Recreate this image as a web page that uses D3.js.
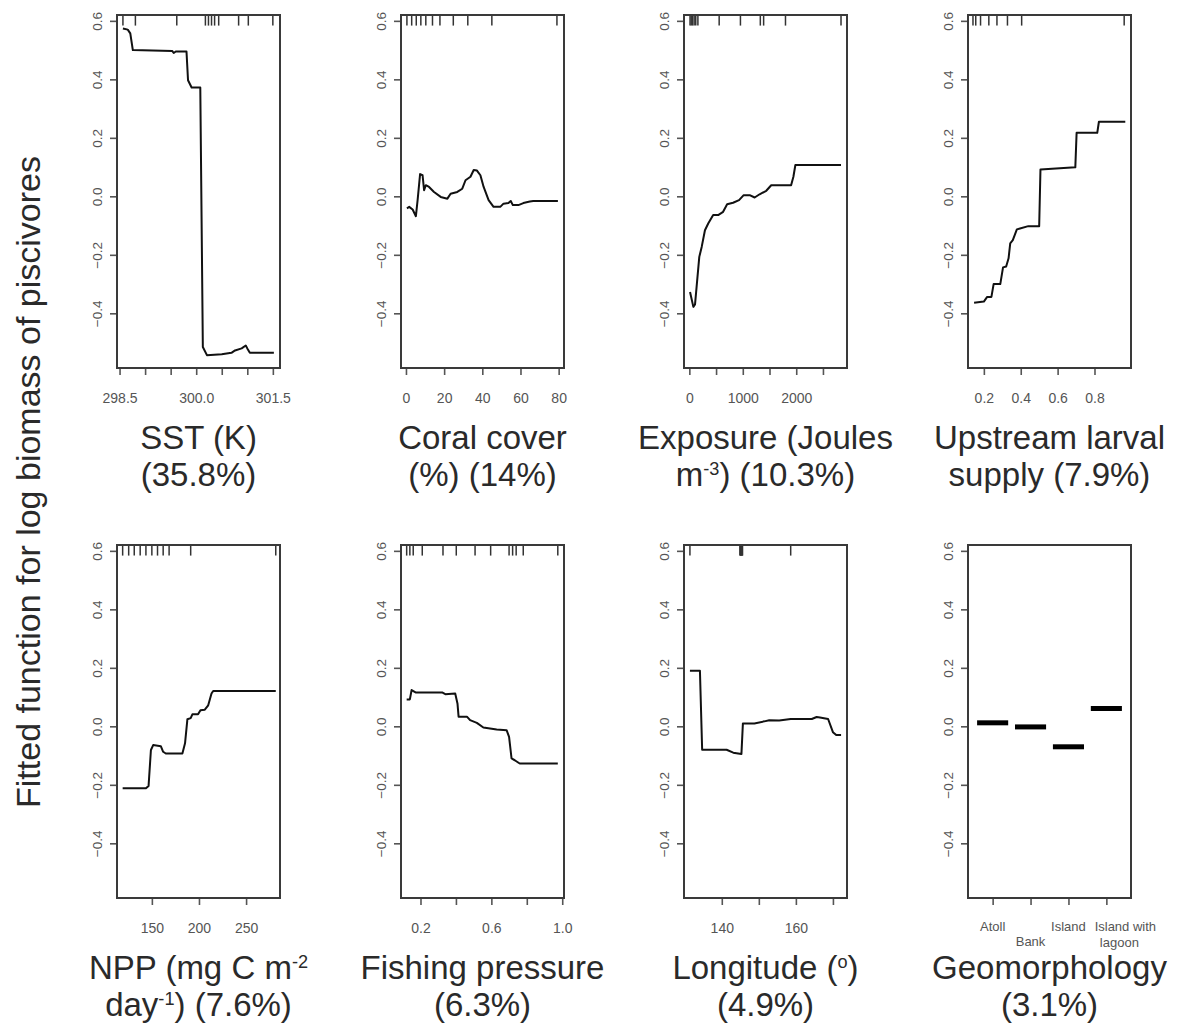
<!DOCTYPE html>
<html><head><meta charset="utf-8">
<script src="https://cdn.jsdelivr.net/npm/d3@7"></script>
<style>
body{margin:0;background:#fff;}
svg{display:block;font-family:"Liberation Sans",Arial,sans-serif;}
</style>
</head><body>
<svg id="chart" width="1189" height="1027"></svg>
<script>
// ---------------- data ----------------
const yTicks = [-0.4, -0.2, 0, 0.2, 0.4, 0.6];
const yTickLabels = ["\u22120.4", "\u22120.2", "0.0", "0.2", "0.4", "0.6"];
const yDomain = [-0.587, 0.62];
const yTitle = "Fitted function for log biomass of piscivores";

// SST
const sstX = [298.566, 298.66, 298.71, 298.76, 299.53, 299.56, 299.6, 299.81, 299.84, 299.91, 300.08, 300.13, 300.21, 300.5, 300.69, 300.76, 300.89, 300.97, 301.0, 301.05, 301.52];
const sstY = [0.574, 0.57, 0.557, 0.5, 0.497, 0.49, 0.495, 0.495, 0.397, 0.372, 0.372, -0.515, -0.543, -0.54, -0.535, -0.527, -0.52, -0.51, -0.52, -0.535, -0.535];
const sstRug = [298.566, 298.81, 299.62, 300.18, 300.24, 300.30, 300.36, 300.44, 300.83, 301.02, 301.5];
const sstDomain = [298.45, 301.64];
const sstTicks = [298.5, 299, 299.5, 300, 300.5, 301, 301.5];
const sstTickLabels = ["298.5", "", "", "300.0", "", "", "301.5"];
const sstTitle = ["SST (K)", "(35.8%)"];

// Coral cover
const coralX = [0.5, 1.7, 3.5, 5.2, 6.1, 7.4, 8.7, 9.5, 10.4, 12.1, 14.7, 18.2, 21.7, 23.4, 26.9, 29.5, 31.2, 33.8, 35.5, 37.2, 39, 40.7, 43.3, 45.9, 49.4, 51.1, 53.7, 54.9, 56, 58.9, 61.5, 64.9, 66.7, 79.6];
const coralY = [-0.041, -0.036, -0.045, -0.068, -0.013, 0.076, 0.072, 0.021, 0.038, 0.032, 0.015, -0.002, -0.008, 0.009, 0.015, 0.026, 0.055, 0.067, 0.09, 0.088, 0.072, 0.032, -0.013, -0.036, -0.036, -0.025, -0.023, -0.016, -0.03, -0.03, -0.023, -0.018, -0.016, -0.016];
const coralRug = [0.5, 3, 5.4, 7.8, 10.4, 13.9, 17.8, 24.8, 32.4, 45, 79.1];
const coralDomain = [-2.6, 82.8];
const coralTicks = [0, 20, 40, 60, 80];
const coralTickLabels = ["0", "20", "40", "60", "80"];
const coralTitle = ["Coral cover", "(%) (14%)"];

// Exposure
const exposureX = [13, 75, 106, 186, 231, 292, 353, 446, 539, 632, 707, 818, 930, 1017, 1129, 1222, 1315, 1439, 1532, 1904, 1947, 1984, 2838];
const exposureY = [-0.327, -0.378, -0.37, -0.207, -0.173, -0.116, -0.093, -0.064, -0.064, -0.053, -0.027, -0.022, -0.013, 0.004, 0.004, -0.004, 0.007, 0.019, 0.038, 0.038, 0.067, 0.107, 0.107];
const exposureRug = [13, 35, 60, 90, 120, 160, 558, 956, 1328, 1390, 1799, 2838];
const exposureDomain = [-100, 2950];
const exposureTicks = [0, 500, 1000, 1500, 2000, 2500];
const exposureTickLabels = ["0", "", "1000", "", "2000", ""];
const exposureTitle = ["Exposure (Joules", "m^{-3}) (10.3%)"];

// Upstream larval supply
const larvalX = [0.147, 0.2, 0.218, 0.241, 0.253, 0.289, 0.304, 0.321, 0.334, 0.343, 0.357, 0.379, 0.396, 0.441, 0.5, 0.507, 0.696, 0.703, 0.815, 0.824, 0.967];
const larvalY = [-0.364, -0.36, -0.344, -0.344, -0.30, -0.30, -0.243, -0.24, -0.212, -0.161, -0.15, -0.113, -0.11, -0.102, -0.102, 0.092, 0.099, 0.217, 0.217, 0.255, 0.255];
const larvalRug = [0.141, 0.156, 0.182, 0.227, 0.271, 0.328, 0.405, 0.961];
const larvalDomain = [0.114, 0.998];
const larvalTicks = [0.2, 0.4, 0.6, 0.8];
const larvalTickLabels = ["0.2", "0.4", "0.6", "0.8"];
const larvalTitle = ["Upstream larval", "supply (7.9%)"];

// NPP
const nppX = [119, 143.7, 146.5, 149, 151.4, 159.5, 162, 164.8, 182.4, 185.2, 187.7, 191.2, 193, 199, 201.6, 206.2, 209.8, 213.3, 215.1, 281.5];
const nppY = [-0.212, -0.212, -0.204, -0.081, -0.064, -0.068, -0.087, -0.093, -0.093, -0.058, 0.024, 0.028, 0.041, 0.041, 0.055, 0.057, 0.072, 0.112, 0.121, 0.121];
const nppRug = [119, 125.4, 131.3, 137.6, 143.7, 150, 156, 162, 168.3, 191.2, 281.5];
const nppDomain = [113, 286];
const nppTicks = [150, 200, 250];
const nppTickLabels = ["150", "200", "250"];
const nppTitle = ["NPP (mg C m^{-2}", "day^{-1}) (7.6%)"];

// Fishing pressure
const fishingX = [0.122, 0.14, 0.15, 0.172, 0.322, 0.34, 0.396, 0.409, 0.415, 0.462, 0.48, 0.518, 0.555, 0.63, 0.686, 0.7, 0.714, 0.732, 0.76, 0.975];
const fishingY = [0.092, 0.092, 0.124, 0.116, 0.116, 0.11, 0.112, 0.077, 0.033, 0.033, 0.021, 0.012, -0.004, -0.011, -0.013, -0.036, -0.11, -0.116, -0.127, -0.127];
const fishingRug = [0.122, 0.14, 0.159, 0.21, 0.327, 0.402, 0.508, 0.596, 0.70, 0.72, 0.74, 0.78, 0.975];
const fishingDomain = [0.09, 1.01];
const fishingTicks = [0.2, 0.4, 0.6, 0.8, 1.0];
const fishingTickLabels = ["0.2", "", "0.6", "", "1.0"];
const fishingTitle = ["Fishing pressure", "(6.3%)"];

// Longitude
const lonX = [131.4, 134.1, 134.7, 136, 141.3, 143.1, 145.3, 145.7, 148.8, 151.5, 152.8, 155.5, 158.6, 164.3, 165.6, 166.5, 168.7, 170, 170.9, 172.2];
const lonY = [0.19, 0.19, -0.08, -0.08, -0.08, -0.09, -0.095, 0.01, 0.01, 0.017, 0.021, 0.02, 0.025, 0.025, 0.032, 0.03, 0.025, -0.02, -0.03, -0.03];
const lonRug = [131.4, 144.9, 145.0, 145.1, 145.2, 145.3, 145.4, 145.5, 145.6, 158.6];
const lonDomain = [129.8, 173.8];
const lonTicks = [140, 150, 160, 170];
const lonTickLabels = ["140", "", "160", ""];
const lonTitle = ["Longitude (^{o})", "(4.9%)"];

// Geomorphology
const geoCategories = ["Atoll", "Bank", "Island", "Island with\nlagoon"];
const geoValues = [0.012, -0.002, -0.07, 0.061];
const geoTitle = ["Geomorphology", "(3.1%)"];

// ---------------- layout ----------------
const W = 1189, H = 1027;
const colLeft = [117, 401, 684, 968];
const rowTop = [15, 545];
const pw = 163, ph = 353;
const titleBase = [[449, 486], [979, 1016]];
const titleSize = 33;

const panels = [
  {type: "line", x: sstX, y: sstY, rug: sstRug, domain: sstDomain, ticks: sstTicks, tickLabels: sstTickLabels, title: sstTitle},
  {type: "line", x: coralX, y: coralY, rug: coralRug, domain: coralDomain, ticks: coralTicks, tickLabels: coralTickLabels, title: coralTitle},
  {type: "line", x: exposureX, y: exposureY, rug: exposureRug, domain: exposureDomain, ticks: exposureTicks, tickLabels: exposureTickLabels, title: exposureTitle},
  {type: "line", x: larvalX, y: larvalY, rug: larvalRug, domain: larvalDomain, ticks: larvalTicks, tickLabels: larvalTickLabels, title: larvalTitle},
  {type: "line", x: nppX, y: nppY, rug: nppRug, domain: nppDomain, ticks: nppTicks, tickLabels: nppTickLabels, title: nppTitle},
  {type: "line", x: fishingX, y: fishingY, rug: fishingRug, domain: fishingDomain, ticks: fishingTicks, tickLabels: fishingTickLabels, title: fishingTitle},
  {type: "line", x: lonX, y: lonY, rug: lonRug, domain: lonDomain, ticks: lonTicks, tickLabels: lonTickLabels, title: lonTitle},
  {type: "factor", cats: geoCategories, values: geoValues, title: geoTitle}
];

const svg = d3.select("#chart");
svg.append("rect").attr("width", W).attr("height", H).attr("fill", "#fff");

const tickColor = "#555", labelColor = "#555", boxColor = "#3a3a3a", lineColor = "#111", titleColor = "#2a2a2a";

function richText(sel, str, x, y, size) {
  const t = sel.append("text").attr("x", x).attr("y", y).attr("text-anchor", "middle")
    .attr("font-size", size).attr("fill", titleColor);
  const parts = str.split(/(\^\{[^}]*\})/);
  const rise = size * 0.33;
  let raised = false;
  parts.forEach(p => {
    if (!p) return;
    const m = p.match(/^\^\{(.*)\}$/);
    if (m) {
      t.append("tspan").attr("font-size", size * 0.55).attr("dy", -rise).text(m[1]);
      raised = true;
    } else {
      const ts = t.append("tspan").text(p);
      if (raised) { ts.attr("dy", rise); raised = false; }
    }
  });
  return t;
}

panels.forEach((p, i) => {
  const r = Math.floor(i / 4), c = i % 4;
  const g = svg.append("g").attr("transform", `translate(${colLeft[c]},${rowTop[r]})`);
  const y = d3.scaleLinear().domain(yDomain).range([ph, 0]);

  // y axis
  const ya = g.append("g").call(d3.axisLeft(y).tickValues(yTicks).tickSize(7)
      .tickFormat((d, k) => yTickLabels[k]));
  ya.select(".domain").remove();
  ya.selectAll(".tick line").attr("stroke", tickColor).attr("stroke-width", 1.6);
  ya.selectAll(".tick text")
    .attr("transform", "rotate(-90)").attr("x", 0).attr("y", -15).attr("dy", 0)
    .attr("text-anchor", "middle").attr("font-size", 13.5).attr("fill", labelColor)
    .attr("font-family", "'Liberation Sans', Arial, sans-serif");

  let x;
  if (p.type === "line") {
    x = d3.scaleLinear().domain(p.domain).range([0, pw]);
    const xa = g.append("g").attr("transform", `translate(0,${ph})`)
      .call(d3.axisBottom(x).tickValues(p.ticks).tickSize(7).tickFormat((d, k) => p.tickLabels[k]));
    xa.select(".domain").remove();
    xa.selectAll(".tick line").attr("stroke", tickColor).attr("stroke-width", 1.6);
    xa.selectAll(".tick text").attr("y", 25).attr("dy", "0.71em").attr("font-size", 14)
      .attr("fill", labelColor).attr("font-family", "'Liberation Sans', Arial, sans-serif");

    // rug
    g.append("g").selectAll("line").data(p.rug).join("line")
      .attr("x1", d => x(d)).attr("x2", d => x(d))
      .attr("y1", 0).attr("y2", ph * 0.03)
      .attr("stroke", "#333").attr("stroke-width", 1.5);

    const pts = p.x.map((v, k) => [v, p.y[k]]);
    g.append("path").datum(pts)
      .attr("d", d3.line().x(d => x(d[0])).y(d => y(d[1])))
      .attr("fill", "none").attr("stroke", lineColor).attr("stroke-width", 2)
      .attr("stroke-linejoin", "round");
  } else {
    x = d3.scaleLinear().domain([0.35, p.cats.length + 0.65]).range([0, pw]);
    const idx = p.cats.map((d, k) => k + 1);
    const xa = g.append("g").attr("transform", `translate(0,${ph})`)
      .call(d3.axisBottom(x).tickValues(idx).tickSize(7).tickFormat(""));
    xa.select(".domain").remove();
    xa.selectAll(".tick line").attr("stroke", tickColor).attr("stroke-width", 1.6);
    const labelDrop = [0, 15, 0, 0];
    const lineShift = [[0], [0], [0], [19, 13]];
    p.cats.forEach((cat, k) => {
      const lines = cat.split("\n");
      const t = g.append("text").attr("text-anchor", "middle").attr("font-size", 13)
        .attr("fill", labelColor);
      lines.forEach((ln, j) => {
        t.append("tspan").attr("x", x(k + 1) + (lineShift[k][j] || 0))
          .attr("y", ph + 33 + labelDrop[k] + j * 16).text(ln);
      });
    });
    g.append("g").selectAll("line").data(p.values).join("line")
      .attr("x1", (d, k) => x(k + 1 - 0.41)).attr("x2", (d, k) => x(k + 1 + 0.41))
      .attr("y1", d => y(d)).attr("y2", d => y(d))
      .attr("stroke", "#000").attr("stroke-width", 5);
  }

  // box
  g.append("rect").attr("x", 0).attr("y", 0).attr("width", pw).attr("height", ph)
    .attr("fill", "none").attr("stroke", boxColor).attr("stroke-width", 2);

  // titles
  const cx = colLeft[c] + pw / 2;
  p.title.forEach((ln, j) => richText(svg, ln, cx, titleBase[r][j], titleSize));
});

// y title
svg.append("text").attr("transform", "translate(40,482) rotate(-90)")
  .attr("text-anchor", "middle").attr("font-size", 34).attr("fill", titleColor).text(yTitle);
</script>
</body></html>
